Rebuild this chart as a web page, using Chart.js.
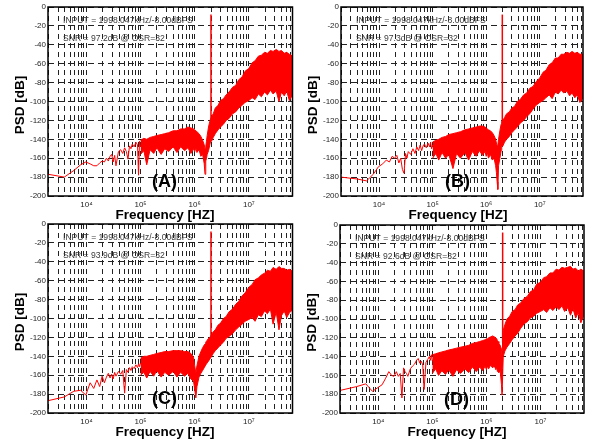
<!DOCTYPE html>
<html>
<head>
<meta charset="utf-8">
<title>PSD spectra</title>
<script src="https://cdn.jsdelivr.net/npm/chart.js@4.4.1/dist/chart.umd.min.js"></script>
<style>
    html, body { margin: 0; padding: 0; background: #ffffff; }
    body { position: relative; width: 589px; height: 447px; overflow: hidden; }
    canvas { position: absolute; }
</style>
</head>
<body>
<canvas id="psdA"></canvas>
<canvas id="psdB"></canvas>
<canvas id="psdC"></canvas>
<canvas id="psdD"></canvas>
<script>
// ══════════════════════════════════════════════════════════
//  Data
// ══════════════════════════════════════════════════════════

// low-frequency FFT bins [Hz], drawn as a plain line
const fftBins = [1953, 3906, 5859, 7813, 9766, 11719, 13672, 15625, 17578, 19531, 21484,
    23438, 25391, 27344, 29297, 31250, 33203, 35156, 39063, 42969, 46875, 50781, 54688,
    58594, 62500, 66406, 70313, 76172, 82031, 87891, 91797, 95703, 100000];

const lowA = [-177, -180, -173, -167, -164, -166, -168, -168, -165, -163, -164, -160, -163, -158, -156, -164, -157,
    -168, -153, -151, -155, -149, -153, -161, -147, -150, -145, -148, -143, -146, -178, -142, -148];
const lowB = [-180, -182, -184, -177, -169, -166, -162, -164, -158, -160, -157, -165, -160, -172, -176, -155, -160,
    -153, -156, -150, -155, -148, -152, -146, -152, -147, -145, -149, -144, -148, -143, -150, -146];
const lowC = [-187, -183, -177, -176, -181, -168, -174, -165, -172, -161, -168, -162, -158, -163, -159, -164, -157,
    -161, -156, -159, -155, -179, -154, -157, -152, -155, -151, -153, -149, -152, -148, -151, -147];
const lowD = [-176, -172, -169, -177, -173, -170, -163, -156, -160, -161, -156, -161, -158, -184, -152, -156, -158,
    -161, -153, -150, -148, -144, -142, -147, -145, -149, -175, -146, -143, -140, -144, -138, -145];

// noise band [Hz]: upper and lower envelope of the dense spectrum
const bandFreq = [100e3, 115e3, 130e3, 150e3, 175e3, 200e3, 240e3, 280e3, 330e3, 400e3, 470e3, 550e3,
    650e3, 750e3, 850e3, 950e3, 1.0e6, 1.05e6, 1.1e6, 1.2e6, 1.3e6, 1.4e6, 1.5e6, 1.55e6, 1.6e6, 1.65e6,
    1.7e6, 1.8e6, 1.9e6, 1.95e6, 2.05e6, 2.2e6, 2.4e6, 2.7e6, 3.0e6, 3.4e6, 3.8e6, 4.3e6, 5.0e6, 5.7e6,
    6.5e6, 7.5e6, 8.5e6, 10e6, 11.5e6, 13e6, 15e6, 17e6, 19.5e6, 22e6, 25e6, 28e6, 32e6, 36e6, 40e6,
    45e6, 50e6, 56e6, 64e6];

const topA = [-141, -139, -140, -138, -137, -136, -135, -134, -133, -131, -131, -129, -129, -127, -128, -129,
    -130, -131, -132, -134, -137, -141, -146, -150, -148, -142, -136, -127, -121, -119,
    -116, -113, -107, -104, -99, -97, -93, -90, -85, -83, -77, -74, -68, -65, -59, -57, -52, -51, -48, -49,
    -46, -47, -45, -47, -46, -49, -48, -50, -52];
const botA = [-156, -152, -167, -151, -155, -149, -156, -150, -153, -148, -154, -148, -152, -149, -155, -150,
    -153, -149, -154, -151, -158, -156, -166, -177, -163, -160, -156, -152, -146, -143,
    -142, -138, -134, -130, -127, -124, -120, -118, -113, -111, -107, -104, -101, -99, -96, -98, -92, -95, -90, -93,
    -88, -92, -89, -100, -90, -94, -89, -99, -93];

const topB = [-143, -141, -140, -138, -137, -135, -134, -133, -132, -130, -129, -128, -127, -126, -126, -127,
    -128, -129, -130, -131, -133, -136, -140, -144, -147, -146, -140, -131, -124, -121,
    -120, -117, -113, -111, -107, -105, -100, -98, -93, -91, -86, -84, -79, -75, -69, -67, -61, -59, -54, -54,
    -50, -50, -48, -49, -47, -49, -48, -50, -50];
const botB = [-160, -155, -162, -154, -160, -156, -171, -155, -160, -154, -162, -153, -158, -152, -157, -153,
    -158, -154, -160, -156, -162, -160, -168, -175, -185, -193, -168, -160, -152, -148,
    -147, -143, -140, -137, -133, -130, -127, -123, -120, -116, -113, -108, -104, -101, -99, -96, -93, -97, -90, -92,
    -88, -91, -89, -94, -91, -96, -93, -101, -96];

const topC = [-142, -140, -140, -139, -138, -137, -136, -135, -135, -134, -134, -134, -135, -135, -137, -141,
    -150, -158, -150, -140, -135, -131, -128, -127, -125, -124, -123, -121, -120, -119,
    -117, -114, -112, -107, -105, -100, -98, -93, -90, -85, -82, -76, -73, -67, -64, -59, -57, -54, -52, -49,
    -50, -46, -48, -45, -47, -47, -49, -48, -50];
const botC = [-160, -157, -163, -156, -161, -155, -162, -157, -160, -156, -162, -157, -161, -158, -164, -166,
    -175, -184, -172, -162, -158, -155, -152, -150, -150, -148, -147, -145, -143, -142,
    -140, -137, -134, -131, -128, -125, -121, -119, -116, -112, -109, -106, -103, -101, -99, -103, -96, -98, -92, -95,
    -90, -106, -93, -112, -97, -92, -99, -94, -91];

const topD = [-138, -137, -136, -135, -134, -133, -132, -131, -130, -129, -128, -126, -125, -124, -123, -122,
    -121, -121, -120, -119, -118, -119, -120, -121, -123, -124, -126, -128, -132, -140,
    -112, -106, -100, -97, -92, -90, -85, -83, -78, -76, -71, -69, -63, -61, -56, -55, -51, -51, -47, -48,
    -45, -46, -45, -44, -47, -46, -49, -47, -49];
const botD = [-158, -153, -160, -155, -159, -154, -161, -154, -158, -153, -157, -151, -156, -151, -155, -150,
    -154, -150, -153, -149, -152, -150, -154, -151, -156, -152, -157, -155, -170, -181,
    -140, -134, -130, -126, -122, -118, -115, -110, -105, -103, -99, -97, -94, -92, -90, -93, -88, -91, -87, -90,
    -86, -92, -88, -96, -89, -99, -93, -104, -95];

// input tone
const toneFreq = 1998047;
const toneDb = -8;
const toneFloor = -125;

// annotations
const snrDb = ['97.2', '97.3', '93.9', '92.6'];
const panelTags = ['(A)', '(B)', '(C)', '(D)'];
const osr = 32;
const inputNote = 'INPUT = 1998.047kHz/-8.00dBFS';
const xTitle = 'Frequency [HZ]';
const yTitle = 'PSD [dB]';

// axes
const xMin = 1953;
const xMax = 64e6;
const xDecades = [1e4, 1e5, 1e6, 1e7];
const xGridLines = [2e3, 3e3, 4e3, 5e3, 6e3, 7e3, 8e3, 9e3,
    1e4, 2e4, 3e4, 4e4, 5e4, 6e4, 7e4, 8e4, 9e4,
    1e5, 2e5, 3e5, 4e5, 5e5, 6e5, 7e5, 8e5, 9e5,
    1e6, 2e6, 3e6, 4e6, 5e6, 6e6, 7e6, 8e6, 9e6,
    1e7, 2e7, 3e7, 4e7, 5e7, 6e7];
const yTicks = [0, -20, -40, -60, -80, -100, -120, -140, -160, -180, -200];

// ══════════════════════════════════════════════════════════
//  Layout + drawing
// ══════════════════════════════════════════════════════════

const FONT = '"Liberation Sans", Arial, Helvetica, sans-serif';
const RED = '#ff0000';
const INK = '#1e1e1e';
const supDigits = { 4: '\u2074', 5: '\u2075', 6: '\u2076', 7: '\u2077' };

// canvas box and plot rectangle, in page pixels
const panels = [
    { id: 'psdA', low: lowA, top: topA, bot: botA, box: { x: 0, y: 0, w: 295, h: 224 }, plot: { l: 48, r: 293, t: 7, b: 196 } },
    { id: 'psdB', low: lowB, top: topB, bot: botB, box: { x: 295, y: 0, w: 294, h: 224 }, plot: { l: 341, r: 583, t: 7, b: 196 } },
    { id: 'psdC', low: lowC, top: topC, bot: botC, box: { x: 0, y: 217, w: 295, h: 230 }, plot: { l: 48, r: 293, t: 224, b: 413 } },
    { id: 'psdD', low: lowD, top: topD, bot: botD, box: { x: 295, y: 217, w: 294, h: 230 }, plot: { l: 340, r: 584, t: 225, b: 413 } }
];

function decadeLabel(v) {
    if (!xDecades.includes(v)) return '';
    return '10' + supDigits[Math.round(Math.log10(v))];
}

// frame, notes, panel tag and axis titles
const psdDecor = {
    id: 'psdDecor',
    afterDatasetsDraw(chart, args, opts) {
        const { ctx, chartArea: a } = chart;
        ctx.save();
        ctx.strokeStyle = '#000';
        ctx.lineWidth = 1.5;
        ctx.strokeRect(a.left, a.top, a.right - a.left, a.bottom - a.top);

        ctx.fillStyle = '#3a3a3a';
        ctx.font = '8.6px ' + FONT;
        ctx.textAlign = 'left';
        ctx.textBaseline = 'middle';
        ctx.fillText(inputNote, a.left + 15, a.top + 13.7);
        ctx.fillText('SNR = ' + opts.snr + 'dB @ OSR=' + osr, a.left + 15, a.top + 32);

        ctx.fillStyle = '#000';
        ctx.textAlign = 'center';
        ctx.font = 'bold 18px ' + FONT;
        ctx.fillText(opts.tag, a.left + 116.5, a.top + 175.5);

        ctx.font = 'bold 13.5px ' + FONT;
        ctx.fillText(xTitle, a.left + 117, a.bottom + 19);
        ctx.translate(a.left - 27.5, (a.top + a.bottom) / 2 + 3.5);
        ctx.rotate(-Math.PI / 2);
        ctx.fillText(yTitle, 0, 0);
        ctx.restore();
    }
};

function renderPanel(p, i) {
    const canvas = document.getElementById(p.id);
    canvas.width = p.box.w;
    canvas.height = p.box.h;
    canvas.style.left = p.box.x + 'px';
    canvas.style.top = p.box.y + 'px';
    canvas.style.width = p.box.w + 'px';
    canvas.style.height = p.box.h + 'px';

    const yWidth = p.plot.l - p.box.x;
    const xHeight = p.box.y + p.box.h - p.plot.b;
    const pts = (xs, ys) => xs.map((x, k) => ({ x: x, y: ys[k] }));

    return new Chart(canvas, {
        type: 'line',
        data: {
            datasets: [
                { data: pts(bandFreq, p.top), borderColor: RED, backgroundColor: RED, borderWidth: 1, pointRadius: 0, fill: '+1' },
                { data: pts(bandFreq, p.bot), borderColor: RED, borderWidth: 1, pointRadius: 0, fill: false },
                { data: pts(fftBins, p.low), borderColor: RED, borderWidth: 1, pointRadius: 0, fill: false },
                { data: [{ x: toneFreq, y: toneFloor }, { x: toneFreq, y: toneDb }], borderColor: RED, borderWidth: 1.5, pointRadius: 0, fill: false }
            ]
        },
        options: {
            responsive: false,
            animation: false,
            events: [],
            layout: {
                padding: { left: 0, top: p.plot.t - p.box.y, right: p.box.x + p.box.w - p.plot.r, bottom: 0 }
            },
            plugins: {
                legend: { display: false },
                tooltip: { enabled: false },
                psdDecor: { snr: snrDb[i], tag: panelTags[i] }
            },
            scales: {
                x: {
                    type: 'logarithmic',
                    min: xMin,
                    max: xMax,
                    afterBuildTicks: s => { s.ticks = xGridLines.map(v => ({ value: v })); },
                    afterFit: s => { s.height = xHeight; },
                    ticks: {
                        autoSkip: false,
                        maxRotation: 0,
                        padding: 4,
                        color: INK,
                        font: { family: FONT, size: 8 },
                        callback: v => decadeLabel(v)
                    },
                    grid: { color: '#222', lineWidth: 1, drawTicks: false },
                    border: { display: false, dash: [5, 4] }
                },
                y: {
                    min: -200,
                    max: 0,
                    afterBuildTicks: s => { s.ticks = yTicks.map(v => ({ value: v })); },
                    afterFit: s => { s.width = yWidth; },
                    ticks: {
                        padding: 2,
                        color: INK,
                        font: { family: FONT, size: 8 }
                    },
                    grid: { color: '#222', lineWidth: 1, drawTicks: false },
                    border: { display: false, dash: [6, 4] }
                }
            }
        },
        plugins: [psdDecor]
    });
}

panels.forEach(renderPanel);
</script>
</body>
</html>
